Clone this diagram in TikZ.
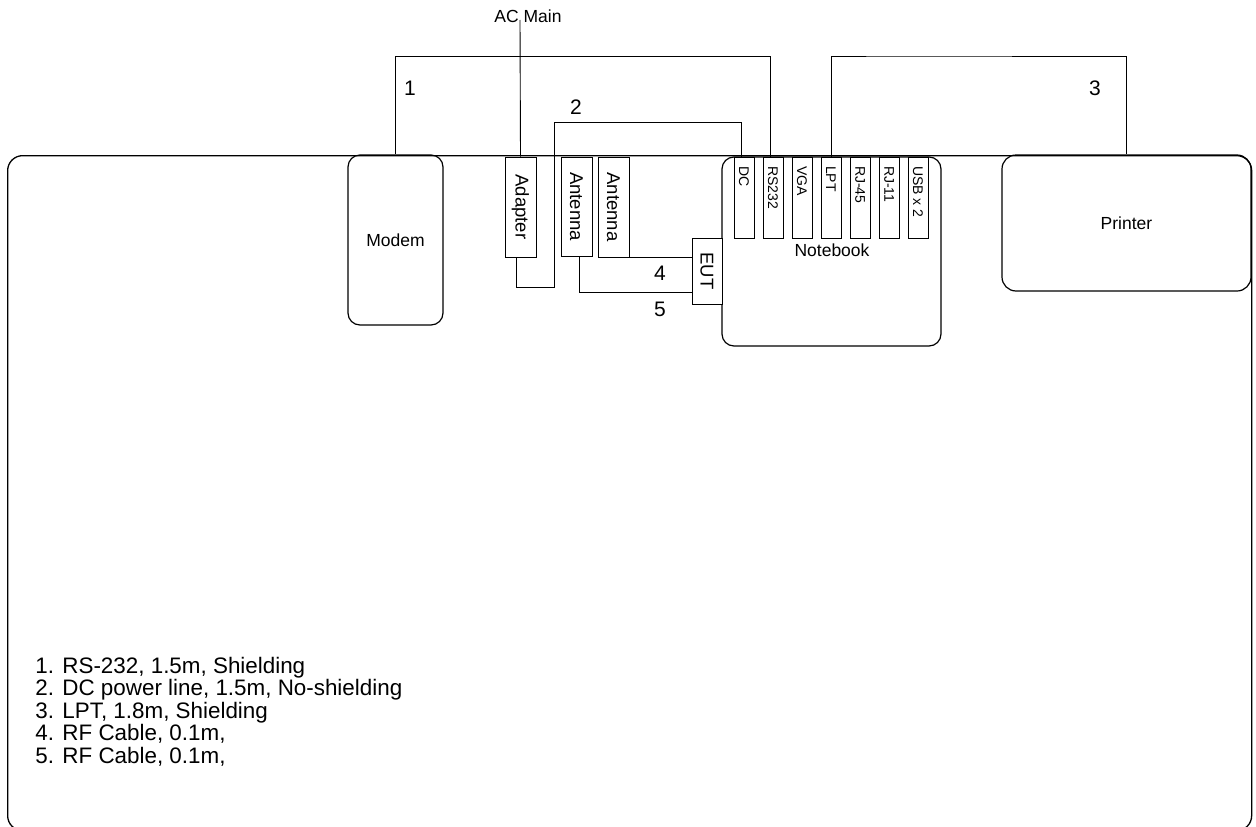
\documentclass[tikz,border=0pt]{standalone}
\usepackage{fontspec}
\setmainfont{Liberation Sans}
\begin{document}
\begin{tikzpicture}[x=1pt,y=-1pt, line width=0.9pt,
  box/.style={draw, rectangle, inner sep=0pt},
  rbox/.style={draw, rectangle, rounded corners=12pt, inner sep=0pt, line width=1.2pt, font=\fontsize{17.5}{20}\selectfont},
  port/.style={draw, rectangle, inner sep=0pt, minimum width=20pt, minimum height=81pt},
  vlbl/.style={rotate=-90, inner sep=0pt, font=\fontsize{18.5}{20}\selectfont},
  plbl/.style={rotate=-90, inner sep=0pt, anchor=west, font=\fontsize{14}{15}\selectfont},
  num/.style={font=\fontsize{21}{24}\selectfont, inner sep=0pt},
  leg/.style={anchor=base west, inner sep=0pt, font=\fontsize{22.4}{22.5}\selectfont},
  wire/.style={draw, line width=0.9pt}
]
\useasboundingbox (0,0) rectangle (1256,827);
\clip (0,0) rectangle (1256,827);

% room frame
\node[draw, rectangle, rounded corners=15pt, line width=1.3pt, inner sep=0pt,
      minimum width=1244pt, minimum height=675pt, anchor=north west] (room) at (7,155) {};

% devices
\node[rbox, minimum width=95pt, minimum height=170pt] (modem) at (395.5,240) {Modem};
\node[rbox, rounded corners=14pt, minimum width=249pt, minimum height=136pt] (printer) at (1126.5,223) {Printer};
\node[rbox, minimum width=219pt, minimum height=189pt] (notebook) at (831.5,251.5) {};
\node[font=\fontsize{17.5}{20}\selectfont, inner sep=0pt] (nblbl) at (832,250) {Notebook};

\node[box, minimum width=31pt, minimum height=100pt] (adapter) at (520.5,207) {};
\node[vlbl] (adapterlbl) at (adapter.center) {Adapter};
\node[box, minimum width=31pt, minimum height=99pt] (antenna1) at (576.5,206.5) {};
\node[vlbl] (antenna1lbl) at (antenna1.center) {Antenna};
\node[box, minimum width=31pt, minimum height=100pt] (antenna2) at (613.5,207) {};
\node[vlbl] (antenna2lbl) at (antenna2.center) {Antenna};
\node[box, fill=white, minimum width=30pt, minimum height=66pt] (eut) at (707,271) {};
\node[vlbl] (eutlbl) at (eut.center) {EUT};

% ports
\node[port] (dc) at (744,197.5) {};
\node[port] (rs232) at (773,197.5) {};
\node[port] (vga) at (802,197.5) {};
\node[port] (lpt) at (831,197.5) {};
\node[port] (rj45) at (860,197.5) {};
\node[port] (rj11) at (889,197.5) {};
\node[port] (usb) at (918,197.5) {};
\node[plbl] (dclbl) at ([yshift=-9pt]dc.north) {DC};
\node[plbl] (rs232lbl) at ([yshift=-9pt]rs232.north) {RS232};
\node[plbl] (vgalbl) at ([yshift=-9pt]vga.north) {VGA};
\node[plbl] (lptlbl) at ([yshift=-9pt]lpt.north) {LPT};
\node[plbl] (rj45lbl) at ([yshift=-9pt]rj45.north) {RJ-45};
\node[plbl] (rj11lbl) at ([yshift=-9pt]rj11.north) {RJ-11};
\node[plbl] (usblbl) at ([yshift=-9pt]usb.north) {USB x 2};

% AC main
\node[font=\fontsize{17.5}{20}\selectfont, inner sep=0pt] (acmain) at (528,16.5) {AC Main};
\coordinate (acend) at (520,20);
\draw[wire] (acend) -- (adapter.north);

% bend coordinates
\coordinate (top1) at (600,56);
\coordinate (top3) at (900,56);
\coordinate (p2a) at (554,287);
\coordinate (p2b) at (554,122);
\coordinate (p5) at (650,292);

% cable 1
\draw[wire] (modem.north) -- (modem.north |- top1) -| ([xshift=-3pt]rs232.north);
% cable 2
\draw[wire] ([xshift=-4pt]adapter.south) |- (p2a) |- (p2b) -| ([xshift=-3pt]dc.north);
% cable 3
\draw[wire] (lpt.north) |- (top3) -| (printer.north);
% cable 4
\draw[wire] (antenna2.south east) -- (eut.west |- antenna2.south);
% cable 5
\draw[wire] ([xshift=2.5pt]antenna1.south) |- (eut.west |- p5);

% cable numbers
\node[num] (n1) at (410,88) {1};
\node[num] (n2) at (576,107) {2};
\node[num] (n3) at (1095,88) {3};
\node[num] (n4) at (660,273) {4};
\node[num] (n5) at (660,309) {5};

% legend
\node[leg] (leg1) at (35,673) {1. RS-232, 1.5m, Shielding};
\node[leg] (leg2) at (35,695.5) {2. DC power line, 1.5m, No-shielding};
\node[leg] (leg3) at (35,718) {3. LPT, 1.8m, Shielding};
\node[leg] (leg4) at (35,740.5) {4. RF Cable, 0.1m,};
\node[leg] (leg5) at (35,763) {5. RF Cable, 0.1m,};
\end{tikzpicture}
\end{document}
